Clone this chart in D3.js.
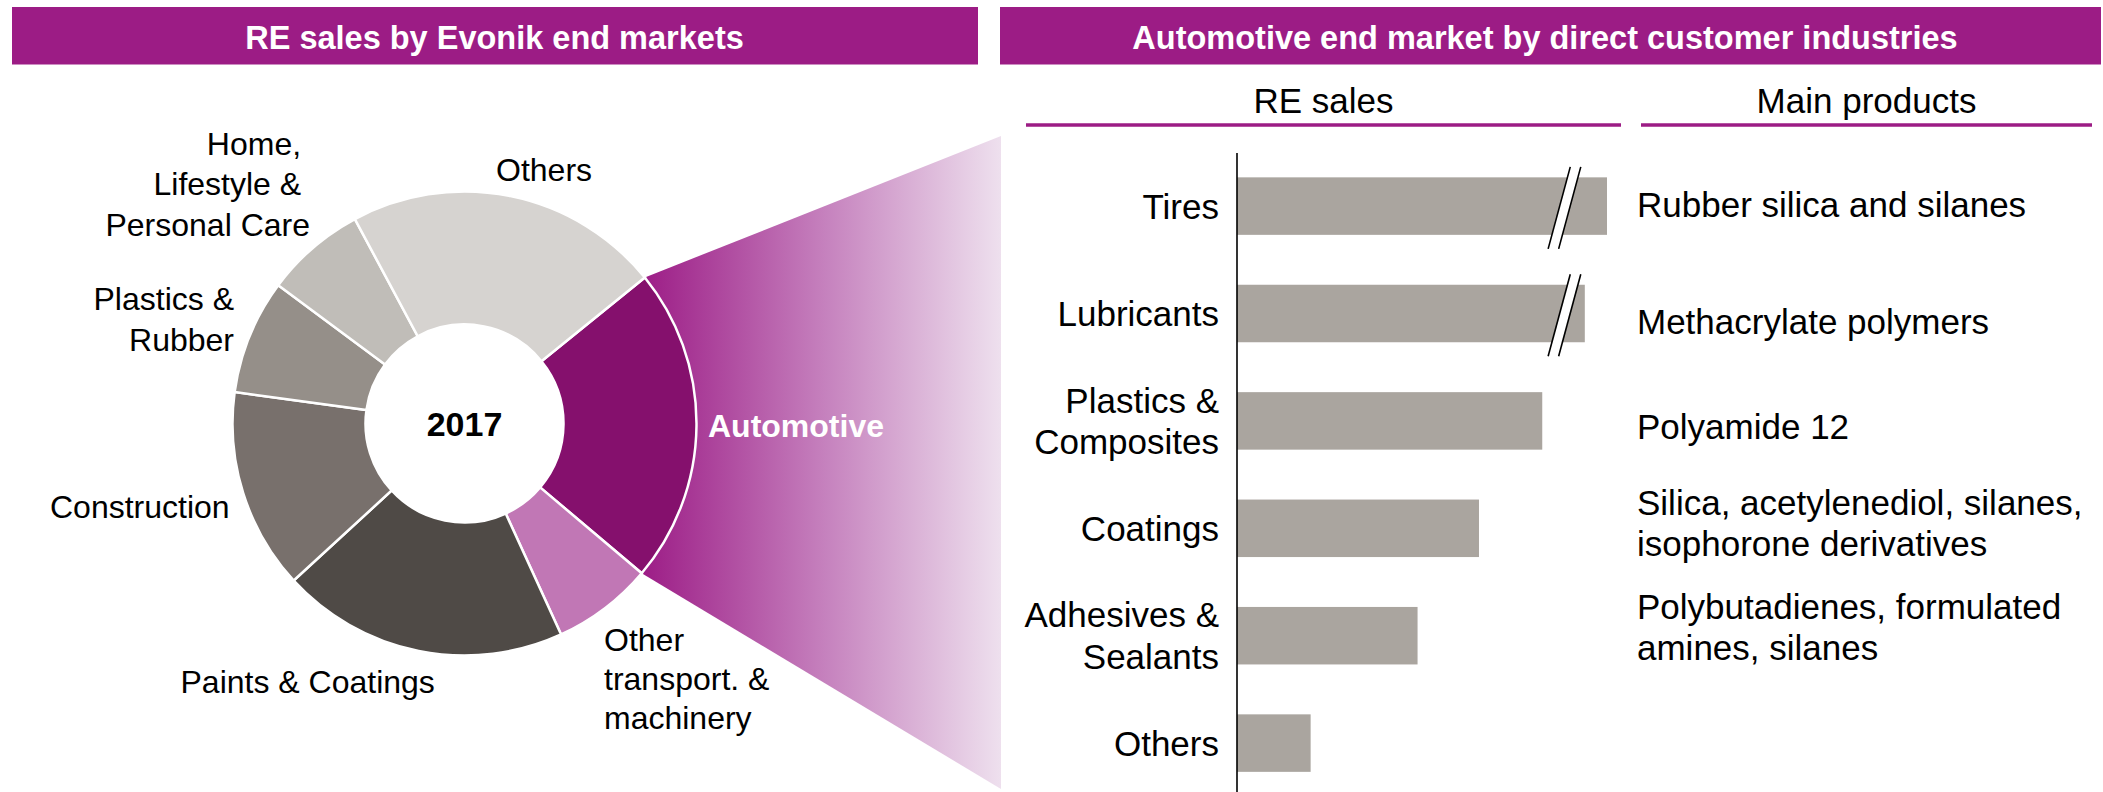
<!DOCTYPE html>
<html>
<head>
<meta charset="utf-8">
<script src="https://cdn.jsdelivr.net/npm/d3@7"></script>
<style>
  body { margin: 0; background: #fff; }
  svg text { font-family: "Liberation Sans", Arial, sans-serif; fill: #000; }
</style>
</head>
<body>
<svg id="chart" width="2103" height="792"></svg>
<script>
/* data */
var panelTitles = ["RE sales by Evonik end markets", "Automotive end market by direct customer industries"];
var columnTitles = ["RE sales", "Main products"];
var centerLabel = "2017";

var marketNames = ["Automotive", "Other transport. & machinery", "Paints & Coatings", "Construction",
    "Plastics & Rubber", "Home, Lifestyle & Personal Care", "Others"];
var marketShares = [22, 7, 20, 14, 8, 7, 22];
var marketLabelLines = [["Automotive"], ["Other", "transport. &", "machinery"], ["Paints & Coatings"],
    ["Construction"], ["Plastics &", "Rubber"], ["Home, ", "Lifestyle & ", "Personal Care"], ["Others"]];

var industries = ["Tires", "Lubricants", "Plastics & Composites", "Coatings", "Adhesives & Sealants", "Others"];
var industryLabelLines = [["Tires"], ["Lubricants"], ["Plastics &", "Composites"], ["Coatings"],
    ["Adhesives &", "Sealants"], ["Others"]];
var industrySales = [100, 94, 82.5, 65.4, 48.8, 19.9]; // relative, axis is broken for the first two
var brokenBars = ["Tires", "Lubricants"];
var mainProducts = [["Rubber silica and silanes"], ["Methacrylate polymers"], ["Polyamide 12"],
    ["Silica, acetylenediol, silanes,", "isophorone derivatives"],
    ["Polybutadienes, formulated", "amines, silanes"], []];

/* styles */
var purple = "#9c1c85";
var marketColors = ["#85106d", "#c177b5", "#4f4a46", "#78706c", "#958f89", "#c0bdb8", "#d6d3d0"];
var barColor = "#aaa59f";

var svg = d3.select("#chart");

/* purple title bars */
var headerBox = [[12, 978], [1000, 2101]];
svg.selectAll("rect.header")
    .data(panelTitles)
    .enter()
    .append("rect")
    .attr("class", "header")
    .attr("x", function (d, i) { return headerBox[i][0]; })
    .attr("y", 7)
    .attr("width", function (d, i) { return headerBox[i][1] - headerBox[i][0]; })
    .attr("height", 57.5)
    .attr("fill", purple);
svg.selectAll("text.header")
    .data(panelTitles)
    .enter()
    .append("text")
    .attr("class", "header")
    .attr("x", function (d, i) { return i == 0 ? 494.5 : 1545; })
    .attr("y", 48.5)
    .attr("text-anchor", "middle")
    .attr("font-size", 32.5)
    .attr("font-weight", "bold")
    .style("fill", "#fff")
    .text(function (d) { return d; });

/* donut */
var cx = 464.5, cy = 423.5, rOut = 232, rIn = 99;
var start = 51 * Math.PI / 180;
var pie = d3.pie().sort(null).value(function (d) { return d; })
    .startAngle(start).endAngle(start + 2 * Math.PI);
var slices = pie(marketShares);
var arc = d3.arc().innerRadius(rIn).outerRadius(rOut);

/* fan from the automotive slice to the bar panel, drawn under the donut */
var grad = svg.append("defs").append("linearGradient")
    .attr("id", "fan")
    .attr("gradientUnits", "userSpaceOnUse")
    .attr("x1", 645).attr("x2", 1001).attr("y1", 0).attr("y2", 0);
grad.append("stop").attr("offset", "0%").attr("stop-color", "#9d1e87");
grad.append("stop").attr("offset", "50%").attr("stop-color", "#c580bd");
grad.append("stop").attr("offset", "100%").attr("stop-color", "#eee0ee");

function onRim(a) {
    return [cx + rOut * Math.sin(a), cy - rOut * Math.cos(a)];
}
var auto = slices[0];
svg.append("path")
    .attr("d", function () {
        var p0 = onRim(auto.startAngle), p1 = onRim(auto.endAngle);
        return "M" + p0 + " L1001,136 L1001,789 L" + p1 + " Z";
    })
    .attr("fill", "url(#fan)");

var donut = svg.append("g").attr("transform", "translate(" + cx + "," + cy + ")");
donut.selectAll("path")
    .data(slices)
    .enter()
    .append("path")
    .attr("d", arc)
    .attr("fill", function (d, i) { return marketColors[i]; })
    .attr("stroke", "#fff")
    .attr("stroke-width", 2.5);

donut.append("text")
    .attr("x", 0)
    .attr("y", 12.5)
    .attr("text-anchor", "middle")
    .attr("font-size", 34)
    .attr("font-weight", "bold")
    .text(centerLabel);

/* slice labels: x, first baseline, anchor */
var marketLabelPos = [[708, 437, "start"], [604, 651, "start"], [180.5, 693, "start"], [50, 518, "start"],
    [234, 310, "end"], [310, 154.5, "end"], [496, 181, "start"]];
var marketLabels = svg.selectAll("text.market")
    .data(marketNames)
    .enter()
    .append("text")
    .attr("class", "market")
    .attr("font-size", 32)
    .attr("text-anchor", function (d, i) { return marketLabelPos[i][2]; })
    .style("white-space", "pre");
marketLabels.each(function (d, i) {
    var t = d3.select(this);
    if (i == 0) {
        t.attr("font-weight", "bold").style("fill", "#fff");
    }
    marketLabelLines[i].forEach(function (line, k) {
        t.append("tspan")
            .attr("x", marketLabelPos[i][0])
            .attr("y", marketLabelPos[i][1] + k * (i == 1 ? 39 : 40.5))
            .text(line);
    });
});

/* right panel column titles and their purple rules */
var columnBox = [[1026, 1621], [1641, 2092]];
svg.selectAll("text.col")
    .data(columnTitles)
    .enter()
    .append("text")
    .attr("class", "col")
    .attr("x", function (d, i) { return (columnBox[i][0] + columnBox[i][1]) / 2; })
    .attr("y", 113)
    .attr("text-anchor", "middle")
    .attr("font-size", 35)
    .text(function (d) { return d; });
svg.selectAll("line.col")
    .data(columnBox)
    .enter()
    .append("line")
    .attr("x1", function (d) { return d[0]; })
    .attr("x2", function (d) { return d[1]; })
    .attr("y1", 125)
    .attr("y2", 125)
    .attr("stroke", purple)
    .attr("stroke-width", 3.5);

/* horizontal bars */
var xBar = d3.scaleLinear().domain([0, 100]).range([1237, 1607]);
var yBar = d3.scaleBand().domain(industries).range([152.4, 796.8])
    .paddingInner(0.4646).paddingOuter(0.2323);

svg.selectAll("rect.bar")
    .data(industrySales)
    .enter()
    .append("rect")
    .attr("class", "bar")
    .attr("x", xBar(0))
    .attr("y", function (d, i) { return yBar(industries[i]); })
    .attr("width", function (d) { return xBar(d) - xBar(0); })
    .attr("height", yBar.bandwidth())
    .attr("fill", barColor);

/* axis line only, the labels are multi-line so they are drawn by hand */
svg.append("g")
    .attr("transform", "translate(" + (xBar(0) - 0.5) + ",0)")
    .call(d3.axisLeft(yBar).tickSize(0).tickSizeOuter(0).tickFormat(""))
    .select(".domain")
    .attr("stroke", "#000")
    .attr("stroke-width", 1.6);

/* break marks on the two longest bars */
var breakAt = 88.5, gap = 10.5, slope = 0.27;
brokenBars.forEach(function (name) {
    var yt = yBar(name) - 10.5, yb = yBar(name) + yBar.bandwidth() + 14;
    var ym = (yt + yb) / 2, xc = xBar(breakAt);
    function px(off, y) { return xc + off - (y - ym) * slope; }
    svg.append("path")
        .attr("d", "M" + px(-gap / 2, yb) + "," + yb + " L" + px(-gap / 2, yt) + "," + yt +
            " L" + px(gap / 2, yt) + "," + yt + " L" + px(gap / 2, yb) + "," + yb + " Z")
        .attr("fill", "#fff");
    [-gap / 2, gap / 2].forEach(function (off) {
        svg.append("line")
            .attr("x1", px(off, yb)).attr("y1", yb)
            .attr("x2", px(off, yt)).attr("y2", yt)
            .attr("stroke", "#000")
            .attr("stroke-width", 1.6);
    });
});

/* category labels left of the axis */
var rowLine = 41.5;
svg.selectAll("text.cat")
    .data(industries)
    .enter()
    .append("text")
    .attr("class", "cat")
    .attr("text-anchor", "end")
    .attr("font-size", 35)
    .each(function (d, i) {
        var t = d3.select(this);
        var mid = yBar(d) + yBar.bandwidth() / 2;
        var n = industryLabelLines[i].length;
        industryLabelLines[i].forEach(function (line, k) {
            t.append("tspan")
                .attr("x", 1219)
                .attr("y", mid + 12.5 - (n - 1) * rowLine / 2 + k * rowLine)
                .text(line);
        });
    });

/* main products column */
var productNudge = [-2, 8, 5.5, -5, -9, 0];
svg.selectAll("text.prod")
    .data(industries)
    .enter()
    .append("text")
    .attr("class", "prod")
    .attr("font-size", 35)
    .each(function (d, i) {
        var t = d3.select(this);
        var mid = yBar(d) + yBar.bandwidth() / 2 + productNudge[i];
        var n = mainProducts[i].length;
        mainProducts[i].forEach(function (line, k) {
            t.append("tspan")
                .attr("x", 1637)
                .attr("y", mid + 12.5 - (n - 1) * 41 / 2 + k * 41)
                .text(line);
        });
    });
</script>
</body>
</html>
